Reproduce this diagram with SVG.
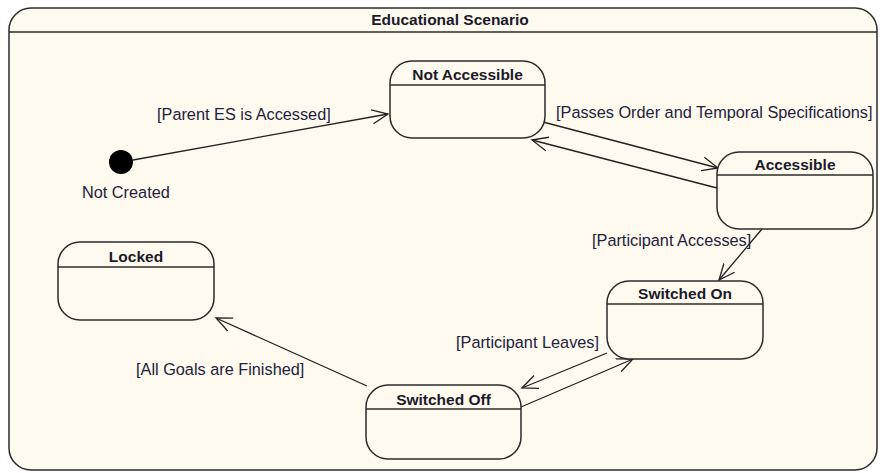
<svg xmlns="http://www.w3.org/2000/svg" width="880" height="473" viewBox="0 0 880 473">
<defs>
<style>
.frame{fill:#FFFAF0;stroke:#2b2b2b;stroke-width:1.5}
.node{fill:#FFFAF0;stroke:#2b2b2b;stroke-width:1.5}
.hdr{stroke:#2b2b2b;stroke-width:1.5}
.title{font-family:"Liberation Sans",Arial,sans-serif;font-size:15.5px;font-weight:bold;fill:#1a1a2a;text-anchor:middle}
.lbl{font-family:"Liberation Sans",Arial,sans-serif;font-size:16.3px;fill:#22223a}
.edge{stroke:#222;stroke-width:1.3;fill:none;marker-end:url(#arr)}
</style>
<marker id="arr" markerUnits="userSpaceOnUse" markerWidth="20" markerHeight="16" refX="16" refY="7" orient="auto" viewBox="0 0 20 14">
<path d="M0,0 L16,7 L0,14" fill="none" stroke="#222" stroke-width="1.3"/>
</marker>
</defs>
<rect x="0" y="0" width="880" height="473" fill="#FFFFFF"/>
<g id="frame">
<rect class="frame" x="9" y="8" width="868" height="462" rx="22"/>
<line class="hdr" x1="9" y1="32" x2="877" y2="32"/>
<text class="title" x="450" y="25">Educational Scenario</text>
</g>
<g id="edges">
<line class="edge" x1="133" y1="160" x2="388" y2="114"/>
<line class="edge" x1="543" y1="122" x2="718" y2="168"/>
<line class="edge" x1="717" y1="188" x2="532" y2="140"/>
<line class="edge" x1="762" y1="229" x2="719" y2="280"/>
<line class="edge" x1="607" y1="353" x2="522" y2="388"/>
<line class="edge" x1="521" y1="407" x2="633" y2="359"/>
<line class="edge" x1="367" y1="386" x2="216" y2="318"/>
<text class="lbl" x="157" y="120">[Parent ES is Accessed]</text>
<text class="lbl" x="556" y="118">[Passes Order and Temporal Specifications]</text>
<text class="lbl" x="592" y="246">[Participant Accesses]</text>
<text class="lbl" x="456" y="348">[Participant Leaves]</text>
<text class="lbl" x="136" y="375">[All Goals are Finished]</text>
</g>
<g id="initial">
<circle cx="121" cy="162" r="12" fill="#000"/>
<text class="lbl" x="82" y="198">Not Created</text>
</g>
<g id="not-accessible">
<rect class="node" x="390" y="61" width="155" height="77" rx="22"/>
<line class="hdr" x1="390" y1="85" x2="545" y2="85"/>
<text class="title" x="467.5" y="80">Not Accessible</text>
</g>
<g id="accessible">
<rect class="node" x="717" y="152" width="156" height="77" rx="22"/>
<line class="hdr" x1="717" y1="175" x2="873" y2="175"/>
<text class="title" x="795" y="170">Accessible</text>
</g>
<g id="switched-on">
<rect class="node" x="607" y="281" width="156" height="78" rx="22"/>
<line class="hdr" x1="607" y1="304" x2="763" y2="304"/>
<text class="title" x="685" y="299">Switched On</text>
</g>
<g id="switched-off">
<rect class="node" x="366" y="385" width="155" height="74" rx="22"/>
<line class="hdr" x1="366" y1="409" x2="521" y2="409"/>
<text class="title" x="443.5" y="405">Switched Off</text>
</g>
<g id="locked">
<rect class="node" x="58" y="242" width="156" height="78" rx="22"/>
<line class="hdr" x1="58" y1="267" x2="214" y2="267"/>
<text class="title" x="136" y="262">Locked</text>
</g>
</svg>
